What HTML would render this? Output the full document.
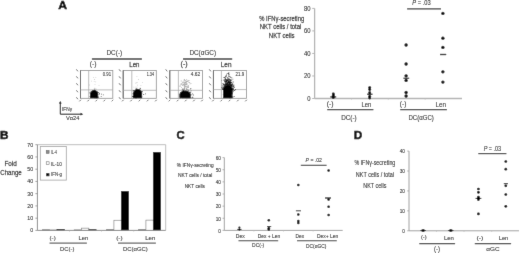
<!DOCTYPE html>
<html><head><meta charset="utf-8"><title>Figure</title>
<style>html,body{margin:0;padding:0;background:#fff;}body{width:520px;height:253px;overflow:hidden;}svg{display:block;will-change:transform;}text{font-kerning:none;stroke:#000;stroke-width:0.26px;stroke-opacity:0.5;}text.s{stroke-width:0.12px;}text.b{stroke-width:0.45px;stroke-opacity:1;}</style>
</head><body>
<svg width="520" height="253" viewBox="0 0 520 253" font-family='"Liberation Sans", sans-serif'>
<defs><filter id="gb" x="0" y="0" width="520" height="253" filterUnits="userSpaceOnUse"><feConvolveMatrix order="3" kernelMatrix="0.005 0.065 0.005 0.065 0.72 0.065 0.005 0.065 0.005" divisor="1" edgeMode="duplicate"/></filter></defs>
<rect width="520" height="253" fill="#fff"/>
<g filter="url(#gb)">
<rect width="520" height="253" fill="#fff"/>
<text class="b" x="58.20" y="9.00" font-size="11.4" font-weight="bold" fill="#000" textLength="8.83" lengthAdjust="spacingAndGlyphs">A</text>
<text class="b" x="0.01" y="138.80" font-size="11.6" font-weight="bold" fill="#000" textLength="8.53" lengthAdjust="spacingAndGlyphs">B</text>
<text class="b" x="176.44" y="138.80" font-size="11.6" font-weight="bold" fill="#000" textLength="8.17" lengthAdjust="spacingAndGlyphs">C</text>
<text class="b" x="353.81" y="138.80" font-size="11.6" font-weight="bold" fill="#000" textLength="8.48" lengthAdjust="spacingAndGlyphs">D</text>
<text class="s" x="106.47" y="54.70" font-size="6.8" fill="#1a1a1a" textLength="15.73" lengthAdjust="spacingAndGlyphs">DC(-)</text>
<line x1="91.90" y1="59.00" x2="141.90" y2="59.00" stroke="#3c3c3c" stroke-width="1.3"/>
<text class="s" x="189.38" y="54.50" font-size="6.8" fill="#1a1a1a" textLength="26.72" lengthAdjust="spacingAndGlyphs">DC(αGC)</text>
<line x1="183.00" y1="59.00" x2="232.20" y2="59.00" stroke="#3c3c3c" stroke-width="1.3"/>
<text class="s" x="89.77" y="65.50" font-size="6.7" fill="#1a1a1a" textLength="6.85" lengthAdjust="spacingAndGlyphs">(-)</text>
<text x="129.30" y="66.80" font-size="7.5" fill="#1a1a1a" textLength="10.20" lengthAdjust="spacingAndGlyphs">Len</text>
<text x="180.56" y="66.20" font-size="7.2" fill="#1a1a1a" textLength="7.08" lengthAdjust="spacingAndGlyphs">(-)</text>
<text x="220.77" y="67.00" font-size="7.5" fill="#1a1a1a" textLength="10.75" lengthAdjust="spacingAndGlyphs">Len</text>
<defs><filter id="bl" x="-50%" y="-50%" width="200%" height="200%"><feGaussianBlur stdDeviation="0.55"/></filter><filter id="bl2" x="-50%" y="-50%" width="200%" height="200%"><feGaussianBlur stdDeviation="0.7"/></filter></defs>
<rect x="80.50" y="70.40" width="32.30" height="27.90" fill="none" stroke="#8a8a8a" stroke-width="0.8"/>
<line x1="80.50" y1="70.40" x2="80.50" y2="98.30" stroke="#555" stroke-width="0.9"/>
<line x1="88.70" y1="70.40" x2="88.70" y2="98.30" stroke="#aaa" stroke-width="0.8"/>
<line x1="80.50" y1="89.90" x2="112.80" y2="89.90" stroke="#aaa" stroke-width="0.8"/>
<clipPath id="cp1"><rect x="88.70" y="70.40" width="24.10" height="27.90"/></clipPath>
<g clip-path="url(#cp1)"><path filter="url(#bl)" fill="#000" d="M90.0 98.8V94.6A4.1 4.7 0 0 1 98.2 94.6V98.8Z"/><path filter="url(#bl2)" fill="#000" fill-opacity="0.8" d="M91.1 95.4h.8v.8h-.8zM96.9 93.3h.8v.8h-.8zM90.8 94.3h.8v.8h-.8zM95.5 97.1h.8v.8h-.8zM91.1 91.4h.8v.8h-.8zM96.1 95.6h.8v.8h-.8zM98.3 96.9h.8v.8h-.8zM94.0 93.8h.8v.8h-.8zM101.0 93.8h.8v.8h-.8zM92.3 91.8h.8v.8h-.8zM94.5 94.8h.8v.8h-.8zM93.4 94.4h.8v.8h-.8zM95.0 96.2h.8v.8h-.8zM97.2 95.0h.8v.8h-.8zM89.6 96.2h.8v.8h-.8zM90.6 94.1h.8v.8h-.8zM90.5 94.5h.8v.8h-.8zM92.3 95.0h.8v.8h-.8zM102.9 94.4h.8v.8h-.8zM96.5 91.3h.8v.8h-.8zM93.6 96.1h.8v.8h-.8zM94.1 95.4h.8v.8h-.8zM94.6 92.1h.8v.8h-.8zM95.8 92.6h.8v.8h-.8zM99.2 93.3h.8v.8h-.8zM96.1 94.5h.8v.8h-.8zM96.8 93.1h.8v.8h-.8zM96.9 94.2h.8v.8h-.8zM97.6 96.0h.8v.8h-.8zM94.7 92.6h.8v.8h-.8zM96.3 95.6h.8v.8h-.8zM98.6 93.6h.8v.8h-.8zM95.7 95.7h.8v.8h-.8zM95.0 95.0h.8v.8h-.8zM94.8 93.1h.8v.8h-.8zM91.7 93.5h.8v.8h-.8zM95.8 98.1h.8v.8h-.8zM96.8 97.0h.8v.8h-.8zM96.3 96.2h.8v.8h-.8zM94.8 96.4h.8v.8h-.8zM98.9 93.7h.8v.8h-.8zM92.5 99.2h.8v.8h-.8zM94.9 96.8h.8v.8h-.8zM96.6 91.8h.8v.8h-.8zM100.6 98.8h.8v.8h-.8zM94.8 96.3h.8v.8h-.8zM94.6 92.4h.8v.8h-.8zM94.0 95.4h.8v.8h-.8zM97.2 96.2h.8v.8h-.8zM94.5 97.8h.8v.8h-.8zM92.3 96.4h.8v.8h-.8zM97.2 93.8h.8v.8h-.8zM89.6 92.3h.8v.8h-.8zM94.9 95.8h.8v.8h-.8zM98.3 92.1h.8v.8h-.8zM94.3 96.1h.8v.8h-.8zM93.9 88.8h.8v.8h-.8zM96.4 100.0h.8v.8h-.8zM96.9 92.3h.8v.8h-.8zM93.2 95.0h.8v.8h-.8zM100.8 96.0h.8v.8h-.8zM94.6 98.2h.8v.8h-.8zM94.1 99.0h.8v.8h-.8zM92.5 93.4h.8v.8h-.8zM96.2 97.9h.8v.8h-.8zM96.0 95.2h.8v.8h-.8zM89.6 92.8h.8v.8h-.8zM92.7 93.2h.8v.8h-.8zM95.8 93.7h.8v.8h-.8zM96.3 94.7h.8v.8h-.8z"/><path filter="url(#bl2)" fill="#000" fill-opacity="0.22" d="M94.2 79.1h.8v.8h-.8zM95.3 81.4h.8v.8h-.8zM93.8 81.3h.8v.8h-.8zM94.4 87.7h.8v.8h-.8zM98.6 85.3h.8v.8h-.8zM94.6 84.0h.8v.8h-.8zM95.4 77.2h.8v.8h-.8zM95.5 87.9h.8v.8h-.8zM93.1 77.3h.8v.8h-.8zM88.9 84.6h.8v.8h-.8zM91.0 80.8h.8v.8h-.8zM95.5 89.0h.8v.8h-.8z"/></g>
<path d="M76.4 97.3 l1.5 1.9" stroke="#555" stroke-width="0.95"/>
<path d="M79.4 101.3 l1.5 -1.5" stroke="#555" stroke-width="0.95"/>
<path d="M76.4 90.3 l1.5 1.9" stroke="#555" stroke-width="0.95"/>
<path d="M87.5 101.3 l1.5 -1.5" stroke="#555" stroke-width="0.95"/>
<path d="M76.4 83.3 l1.5 1.9" stroke="#555" stroke-width="0.95"/>
<path d="M95.6 101.3 l1.5 -1.5" stroke="#555" stroke-width="0.95"/>
<path d="M76.4 76.4 l1.5 1.9" stroke="#555" stroke-width="0.95"/>
<path d="M103.6 101.3 l1.5 -1.5" stroke="#555" stroke-width="0.95"/>
<path d="M76.4 69.4 l1.5 1.9" stroke="#555" stroke-width="0.95"/>
<path d="M111.7 101.3 l1.5 -1.5" stroke="#555" stroke-width="0.95"/>
<text class="s" x="102.83" y="75.80" font-size="5.5" fill="#222" textLength="8.27" lengthAdjust="spacingAndGlyphs">0.91</text>
<rect x="123.20" y="70.40" width="33.10" height="27.90" fill="none" stroke="#8a8a8a" stroke-width="0.8"/>
<line x1="123.20" y1="70.40" x2="123.20" y2="98.30" stroke="#555" stroke-width="0.9"/>
<line x1="131.80" y1="70.40" x2="131.80" y2="98.30" stroke="#aaa" stroke-width="0.8"/>
<line x1="123.20" y1="90.30" x2="156.30" y2="90.30" stroke="#aaa" stroke-width="0.8"/>
<clipPath id="cp2"><rect x="131.80" y="70.40" width="24.50" height="27.90"/></clipPath>
<g clip-path="url(#cp2)"><path filter="url(#bl)" fill="#000" d="M132.9 98.8V94.0A4.6 4.9 0 0 1 142.1 94.0V98.8Z"/><path filter="url(#bl2)" fill="#000" fill-opacity="0.8" d="M140.6 95.8h.8v.8h-.8zM137.0 88.7h.8v.8h-.8zM137.1 90.3h.8v.8h-.8zM139.2 88.7h.8v.8h-.8zM135.0 97.5h.8v.8h-.8zM142.1 91.2h.8v.8h-.8zM133.2 96.6h.8v.8h-.8zM139.9 91.7h.8v.8h-.8zM135.6 92.5h.8v.8h-.8zM134.2 92.5h.8v.8h-.8zM141.0 96.1h.8v.8h-.8zM143.3 94.1h.8v.8h-.8zM137.1 91.7h.8v.8h-.8zM137.2 90.9h.8v.8h-.8zM132.5 96.1h.8v.8h-.8zM141.5 96.5h.8v.8h-.8zM141.2 95.0h.8v.8h-.8zM135.5 94.5h.8v.8h-.8zM136.5 91.4h.8v.8h-.8zM132.8 90.4h.8v.8h-.8zM137.5 94.7h.8v.8h-.8zM136.2 98.0h.8v.8h-.8zM138.0 95.8h.8v.8h-.8zM140.9 92.2h.8v.8h-.8zM132.0 96.3h.8v.8h-.8zM135.6 97.7h.8v.8h-.8zM138.4 96.9h.8v.8h-.8zM139.6 88.9h.8v.8h-.8zM139.5 92.5h.8v.8h-.8zM135.4 93.2h.8v.8h-.8zM139.7 96.6h.8v.8h-.8zM140.3 90.0h.8v.8h-.8zM135.8 88.1h.8v.8h-.8zM137.2 95.9h.8v.8h-.8zM135.4 94.9h.8v.8h-.8zM138.1 96.9h.8v.8h-.8zM135.2 92.1h.8v.8h-.8zM135.4 98.9h.8v.8h-.8zM140.6 94.0h.8v.8h-.8zM138.1 94.6h.8v.8h-.8zM138.1 93.8h.8v.8h-.8zM136.6 91.0h.8v.8h-.8zM135.7 98.6h.8v.8h-.8zM139.0 94.5h.8v.8h-.8zM136.9 94.5h.8v.8h-.8zM138.5 92.6h.8v.8h-.8zM138.0 94.9h.8v.8h-.8zM135.4 92.2h.8v.8h-.8zM134.7 91.5h.8v.8h-.8zM140.0 88.2h.8v.8h-.8zM136.8 92.7h.8v.8h-.8zM135.8 94.6h.8v.8h-.8zM140.7 94.5h.8v.8h-.8zM137.1 92.7h.8v.8h-.8zM137.1 96.7h.8v.8h-.8zM136.4 91.3h.8v.8h-.8zM134.0 91.4h.8v.8h-.8zM133.6 97.2h.8v.8h-.8zM138.5 93.7h.8v.8h-.8zM141.6 92.6h.8v.8h-.8zM139.6 96.4h.8v.8h-.8zM133.2 90.3h.8v.8h-.8zM134.9 96.7h.8v.8h-.8zM141.1 91.1h.8v.8h-.8zM140.4 93.3h.8v.8h-.8zM136.4 92.9h.8v.8h-.8zM136.6 89.6h.8v.8h-.8zM134.7 91.1h.8v.8h-.8zM138.9 99.7h.8v.8h-.8zM145.1 93.4h.8v.8h-.8zM132.7 93.2h.8v.8h-.8zM134.9 99.5h.8v.8h-.8zM139.1 92.4h.8v.8h-.8zM140.1 95.7h.8v.8h-.8zM132.9 92.9h.8v.8h-.8zM136.8 94.3h.8v.8h-.8zM137.9 93.4h.8v.8h-.8zM138.0 92.8h.8v.8h-.8zM135.0 98.2h.8v.8h-.8zM138.5 95.4h.8v.8h-.8z"/><path filter="url(#bl2)" fill="#000" fill-opacity="0.22" d="M133.5 86.8h.8v.8h-.8zM137.1 84.7h.8v.8h-.8zM140.2 88.3h.8v.8h-.8zM136.5 76.2h.8v.8h-.8zM138.0 79.1h.8v.8h-.8zM140.5 85.2h.8v.8h-.8zM135.5 86.8h.8v.8h-.8zM135.2 82.8h.8v.8h-.8zM136.6 86.8h.8v.8h-.8zM139.8 87.6h.8v.8h-.8zM138.8 88.6h.8v.8h-.8zM142.2 82.3h.8v.8h-.8zM136.0 82.5h.8v.8h-.8zM136.8 82.0h.8v.8h-.8z"/></g>
<path d="M119.1 97.3 l1.5 1.9" stroke="#555" stroke-width="0.95"/>
<path d="M122.1 101.3 l1.5 -1.5" stroke="#555" stroke-width="0.95"/>
<path d="M119.1 90.3 l1.5 1.9" stroke="#555" stroke-width="0.95"/>
<path d="M130.4 101.3 l1.5 -1.5" stroke="#555" stroke-width="0.95"/>
<path d="M119.1 83.3 l1.5 1.9" stroke="#555" stroke-width="0.95"/>
<path d="M138.7 101.3 l1.5 -1.5" stroke="#555" stroke-width="0.95"/>
<path d="M119.1 76.4 l1.5 1.9" stroke="#555" stroke-width="0.95"/>
<path d="M146.9 101.3 l1.5 -1.5" stroke="#555" stroke-width="0.95"/>
<path d="M119.1 69.4 l1.5 1.9" stroke="#555" stroke-width="0.95"/>
<path d="M155.2 101.3 l1.5 -1.5" stroke="#555" stroke-width="0.95"/>
<text class="s" x="146.71" y="75.80" font-size="5.5" fill="#222" textLength="7.30" lengthAdjust="spacingAndGlyphs">1.34</text>
<rect x="169.80" y="70.40" width="32.60" height="27.90" fill="none" stroke="#8a8a8a" stroke-width="0.8"/>
<line x1="169.80" y1="70.40" x2="169.80" y2="98.30" stroke="#555" stroke-width="0.9"/>
<line x1="178.40" y1="70.40" x2="178.40" y2="98.30" stroke="#aaa" stroke-width="0.8"/>
<line x1="169.80" y1="90.30" x2="202.40" y2="90.30" stroke="#aaa" stroke-width="0.8"/>
<clipPath id="cp3"><rect x="178.40" y="70.40" width="24.00" height="27.90"/></clipPath>
<g clip-path="url(#cp3)"><path filter="url(#bl)" fill="#000" d="M179.5 98.8V94.2Q179.7 90.9 185.0 90.7Q190.5 90.9 190.7 94.2V98.8Z"/><path filter="url(#bl2)" fill="#000" fill-opacity="0.8" d="M184.4 94.6h.8v.8h-.8zM188.9 94.4h.8v.8h-.8zM180.2 97.7h.8v.8h-.8zM181.5 93.8h.8v.8h-.8zM184.6 94.1h.8v.8h-.8zM181.7 94.4h.8v.8h-.8zM192.2 93.4h.8v.8h-.8zM184.6 97.9h.8v.8h-.8zM187.5 97.0h.8v.8h-.8zM187.8 89.9h.8v.8h-.8zM182.1 95.3h.8v.8h-.8zM186.6 98.4h.8v.8h-.8zM186.5 94.4h.8v.8h-.8zM185.1 94.5h.8v.8h-.8zM185.8 96.8h.8v.8h-.8zM183.9 92.9h.8v.8h-.8zM182.2 97.9h.8v.8h-.8zM189.2 97.6h.8v.8h-.8zM187.8 97.2h.8v.8h-.8zM185.0 96.7h.8v.8h-.8zM181.5 94.5h.8v.8h-.8zM182.6 96.9h.8v.8h-.8zM183.1 94.7h.8v.8h-.8zM186.3 98.5h.8v.8h-.8zM182.4 92.6h.8v.8h-.8zM187.7 92.1h.8v.8h-.8zM186.5 93.5h.8v.8h-.8zM184.7 90.3h.8v.8h-.8zM187.4 93.7h.8v.8h-.8zM182.0 100.4h.8v.8h-.8zM187.3 104.1h.8v.8h-.8zM186.3 94.1h.8v.8h-.8zM185.4 99.2h.8v.8h-.8zM184.9 96.2h.8v.8h-.8zM186.7 92.6h.8v.8h-.8zM185.4 93.7h.8v.8h-.8zM180.9 97.3h.8v.8h-.8zM187.2 95.2h.8v.8h-.8zM182.0 89.8h.8v.8h-.8zM186.6 94.7h.8v.8h-.8zM179.4 94.8h.8v.8h-.8zM180.0 94.9h.8v.8h-.8zM185.5 95.9h.8v.8h-.8zM185.7 95.4h.8v.8h-.8zM181.2 94.0h.8v.8h-.8zM183.3 94.4h.8v.8h-.8zM185.9 96.6h.8v.8h-.8zM190.4 88.3h.8v.8h-.8zM186.3 94.5h.8v.8h-.8zM192.5 97.4h.8v.8h-.8zM179.5 96.0h.8v.8h-.8zM183.3 97.6h.8v.8h-.8zM181.5 94.7h.8v.8h-.8zM184.6 94.7h.8v.8h-.8zM183.1 90.2h.8v.8h-.8zM186.5 97.6h.8v.8h-.8zM184.8 92.4h.8v.8h-.8zM185.7 96.5h.8v.8h-.8zM184.4 95.0h.8v.8h-.8zM189.6 92.1h.8v.8h-.8zM183.2 90.0h.8v.8h-.8zM182.7 93.1h.8v.8h-.8zM181.8 93.2h.8v.8h-.8zM190.9 94.5h.8v.8h-.8zM184.6 100.7h.8v.8h-.8zM184.8 90.5h.8v.8h-.8zM186.3 92.6h.8v.8h-.8zM190.4 91.8h.8v.8h-.8zM183.1 90.8h.8v.8h-.8zM185.3 92.4h.8v.8h-.8zM184.8 94.0h.8v.8h-.8zM183.0 97.5h.8v.8h-.8zM188.1 95.2h.8v.8h-.8zM182.0 92.2h.8v.8h-.8zM185.9 101.2h.8v.8h-.8zM183.5 93.0h.8v.8h-.8zM182.7 92.2h.8v.8h-.8zM181.8 94.5h.8v.8h-.8zM189.7 95.0h.8v.8h-.8zM183.3 90.8h.8v.8h-.8zM185.7 94.9h.8v.8h-.8zM181.0 92.2h.8v.8h-.8zM184.9 97.6h.8v.8h-.8zM187.1 95.5h.8v.8h-.8zM183.9 95.8h.8v.8h-.8zM185.0 100.6h.8v.8h-.8zM181.3 94.0h.8v.8h-.8zM189.2 94.3h.8v.8h-.8zM189.7 94.9h.8v.8h-.8zM185.5 94.0h.8v.8h-.8zM180.4 92.5h.8v.8h-.8zM192.3 96.7h.8v.8h-.8zM187.0 97.5h.8v.8h-.8zM186.9 97.7h.8v.8h-.8zM184.1 94.4h.8v.8h-.8zM188.2 94.1h.8v.8h-.8zM180.6 94.4h.8v.8h-.8zM183.2 96.6h.8v.8h-.8zM182.6 92.2h.8v.8h-.8zM183.9 99.0h.8v.8h-.8zM184.8 95.4h.8v.8h-.8zM185.0 95.8h.8v.8h-.8zM188.1 98.6h.8v.8h-.8zM179.6 98.5h.8v.8h-.8zM185.0 94.2h.8v.8h-.8zM192.9 94.6h.8v.8h-.8zM191.4 97.5h.8v.8h-.8zM181.6 96.3h.8v.8h-.8zM187.4 94.7h.8v.8h-.8zM177.3 94.1h.8v.8h-.8z"/><path filter="url(#bl2)" fill="#000" fill-opacity="0.35" d="M184.6 91.7h.8v.8h-.8zM182.6 89.6h.8v.8h-.8zM184.1 87.1h.8v.8h-.8zM184.3 84.9h.8v.8h-.8zM185.2 85.9h.8v.8h-.8zM185.7 80.6h.8v.8h-.8zM181.9 84.9h.8v.8h-.8zM186.1 82.4h.8v.8h-.8zM183.0 89.1h.8v.8h-.8zM183.9 85.9h.8v.8h-.8zM190.4 88.5h.8v.8h-.8zM184.9 82.1h.8v.8h-.8zM188.5 89.2h.8v.8h-.8zM188.0 87.1h.8v.8h-.8zM183.9 87.9h.8v.8h-.8zM186.4 86.3h.8v.8h-.8zM182.4 88.8h.8v.8h-.8zM183.3 81.5h.8v.8h-.8zM185.0 90.9h.8v.8h-.8zM191.1 90.4h.8v.8h-.8zM185.8 82.5h.8v.8h-.8zM185.2 84.5h.8v.8h-.8zM184.3 86.0h.8v.8h-.8zM184.3 79.9h.8v.8h-.8zM187.8 86.2h.8v.8h-.8zM186.7 87.2h.8v.8h-.8zM183.2 81.7h.8v.8h-.8zM186.8 83.5h.8v.8h-.8zM184.9 80.0h.8v.8h-.8zM180.8 80.6h.8v.8h-.8zM186.1 89.0h.8v.8h-.8zM182.1 81.8h.8v.8h-.8zM183.5 89.5h.8v.8h-.8zM185.8 83.8h.8v.8h-.8zM181.2 83.2h.8v.8h-.8zM179.6 86.1h.8v.8h-.8zM184.9 84.6h.8v.8h-.8zM180.0 83.8h.8v.8h-.8zM188.7 80.0h.8v.8h-.8zM187.6 80.1h.8v.8h-.8zM182.7 87.9h.8v.8h-.8zM184.0 82.9h.8v.8h-.8zM185.1 81.8h.8v.8h-.8zM184.1 87.6h.8v.8h-.8zM186.6 88.4h.8v.8h-.8zM185.9 88.0h.8v.8h-.8zM184.7 83.7h.8v.8h-.8zM186.2 88.4h.8v.8h-.8zM184.3 88.2h.8v.8h-.8zM185.8 86.4h.8v.8h-.8zM189.5 90.9h.8v.8h-.8zM182.4 84.7h.8v.8h-.8zM185.6 83.1h.8v.8h-.8zM183.2 84.2h.8v.8h-.8zM189.3 82.2h.8v.8h-.8zM183.1 83.7h.8v.8h-.8zM183.6 84.1h.8v.8h-.8zM186.6 84.0h.8v.8h-.8zM186.0 89.4h.8v.8h-.8zM187.7 86.0h.8v.8h-.8zM186.5 81.3h.8v.8h-.8zM182.6 88.9h.8v.8h-.8zM186.3 79.3h.8v.8h-.8zM183.8 85.7h.8v.8h-.8zM182.3 91.6h.8v.8h-.8zM184.2 87.5h.8v.8h-.8zM185.3 86.1h.8v.8h-.8zM184.2 89.2h.8v.8h-.8zM185.8 88.6h.8v.8h-.8zM185.5 90.7h.8v.8h-.8zM187.7 80.9h.8v.8h-.8zM186.6 88.7h.8v.8h-.8zM184.0 81.9h.8v.8h-.8zM183.7 88.9h.8v.8h-.8zM181.3 84.1h.8v.8h-.8zM184.5 83.4h.8v.8h-.8zM188.2 85.4h.8v.8h-.8zM184.3 86.0h.8v.8h-.8zM184.4 90.9h.8v.8h-.8zM181.6 84.3h.8v.8h-.8zM186.5 90.1h.8v.8h-.8zM182.1 89.5h.8v.8h-.8zM187.3 91.5h.8v.8h-.8zM181.0 87.3h.8v.8h-.8zM181.6 89.4h.8v.8h-.8zM184.5 84.5h.8v.8h-.8zM183.9 88.6h.8v.8h-.8zM185.6 91.9h.8v.8h-.8zM184.1 81.7h.8v.8h-.8zM185.9 84.5h.8v.8h-.8zM183.5 79.8h.8v.8h-.8zM190.6 83.0h.8v.8h-.8zM187.4 89.1h.8v.8h-.8zM187.1 81.3h.8v.8h-.8zM187.3 86.6h.8v.8h-.8zM185.9 90.8h.8v.8h-.8zM186.0 81.4h.8v.8h-.8zM185.2 81.8h.8v.8h-.8zM185.3 86.7h.8v.8h-.8zM188.5 81.9h.8v.8h-.8zM185.7 81.2h.8v.8h-.8zM186.6 88.8h.8v.8h-.8zM184.0 89.6h.8v.8h-.8zM187.6 85.2h.8v.8h-.8zM184.7 90.9h.8v.8h-.8zM189.6 83.4h.8v.8h-.8zM179.7 85.3h.8v.8h-.8zM183.4 81.9h.8v.8h-.8zM190.1 89.4h.8v.8h-.8zM186.6 84.0h.8v.8h-.8zM182.4 82.6h.8v.8h-.8zM184.5 91.9h.8v.8h-.8zM184.1 79.1h.8v.8h-.8zM183.6 85.1h.8v.8h-.8zM182.3 88.3h.8v.8h-.8zM187.8 86.9h.8v.8h-.8zM185.7 83.2h.8v.8h-.8zM186.1 82.4h.8v.8h-.8zM186.8 87.3h.8v.8h-.8zM183.1 91.9h.8v.8h-.8z"/></g>
<path d="M165.7 97.3 l1.5 1.9" stroke="#555" stroke-width="0.95"/>
<path d="M168.7 101.3 l1.5 -1.5" stroke="#555" stroke-width="0.95"/>
<path d="M165.7 90.3 l1.5 1.9" stroke="#555" stroke-width="0.95"/>
<path d="M176.9 101.3 l1.5 -1.5" stroke="#555" stroke-width="0.95"/>
<path d="M165.7 83.3 l1.5 1.9" stroke="#555" stroke-width="0.95"/>
<path d="M185.0 101.3 l1.5 -1.5" stroke="#555" stroke-width="0.95"/>
<path d="M165.7 76.4 l1.5 1.9" stroke="#555" stroke-width="0.95"/>
<path d="M193.2 101.3 l1.5 -1.5" stroke="#555" stroke-width="0.95"/>
<path d="M165.7 69.4 l1.5 1.9" stroke="#555" stroke-width="0.95"/>
<path d="M201.3 101.3 l1.5 -1.5" stroke="#555" stroke-width="0.95"/>
<text class="s" x="190.69" y="75.80" font-size="5.5" fill="#222" textLength="9.46" lengthAdjust="spacingAndGlyphs">4.62</text>
<rect x="213.40" y="70.40" width="33.00" height="27.90" fill="none" stroke="#8a8a8a" stroke-width="0.8"/>
<line x1="213.40" y1="70.40" x2="213.40" y2="98.30" stroke="#555" stroke-width="0.9"/>
<line x1="221.40" y1="70.40" x2="221.40" y2="98.30" stroke="#aaa" stroke-width="0.8"/>
<line x1="213.40" y1="89.60" x2="246.40" y2="89.60" stroke="#aaa" stroke-width="0.8"/>
<clipPath id="cp4"><rect x="221.40" y="70.40" width="25.00" height="27.90"/></clipPath>
<g clip-path="url(#cp4)"><path filter="url(#bl)" fill="#000" d="M223.1 98.8V90.5Q223.3 86.2 227.7 85.8Q232.2 86.2 232.5 90.5V98.8Z"/><path filter="url(#bl2)" fill="#000" fill-opacity="0.9" d="M231.2 88.8h.8v.8h-.8zM231.1 84.3h.8v.8h-.8zM227.6 79.8h.8v.8h-.8zM223.9 84.0h.8v.8h-.8zM228.6 85.9h.8v.8h-.8zM226.3 89.0h.8v.8h-.8zM227.9 83.7h.8v.8h-.8zM226.7 82.9h.8v.8h-.8zM225.8 86.7h.8v.8h-.8zM224.7 88.2h.8v.8h-.8zM227.0 87.5h.8v.8h-.8zM225.9 87.9h.8v.8h-.8zM226.8 83.4h.8v.8h-.8zM231.5 84.1h.8v.8h-.8zM229.9 87.8h.8v.8h-.8zM228.6 85.6h.8v.8h-.8zM228.3 81.4h.8v.8h-.8zM230.5 84.5h.8v.8h-.8zM229.2 85.4h.8v.8h-.8zM228.6 76.3h.8v.8h-.8zM224.2 85.9h.8v.8h-.8zM227.8 84.5h.8v.8h-.8zM225.5 88.5h.8v.8h-.8zM226.5 84.2h.8v.8h-.8zM227.9 73.5h.8v.8h-.8zM225.7 88.4h.8v.8h-.8zM226.1 86.3h.8v.8h-.8zM229.8 84.9h.8v.8h-.8zM230.1 88.1h.8v.8h-.8zM229.8 83.5h.8v.8h-.8zM229.6 89.4h.8v.8h-.8zM225.0 89.0h.8v.8h-.8zM226.6 83.2h.8v.8h-.8zM225.0 88.7h.8v.8h-.8zM226.5 88.4h.8v.8h-.8zM228.6 88.0h.8v.8h-.8zM223.9 85.9h.8v.8h-.8zM230.1 87.2h.8v.8h-.8zM224.6 85.9h.8v.8h-.8zM228.6 86.4h.8v.8h-.8zM228.8 88.0h.8v.8h-.8zM228.2 87.8h.8v.8h-.8zM226.3 84.7h.8v.8h-.8zM227.4 82.0h.8v.8h-.8zM222.3 88.5h.8v.8h-.8zM229.2 86.0h.8v.8h-.8zM227.9 88.7h.8v.8h-.8zM229.7 83.0h.8v.8h-.8zM227.2 80.4h.8v.8h-.8zM224.6 85.7h.8v.8h-.8zM227.9 84.9h.8v.8h-.8zM230.7 85.4h.8v.8h-.8zM229.2 85.5h.8v.8h-.8zM227.4 80.3h.8v.8h-.8zM224.3 86.2h.8v.8h-.8zM231.2 84.7h.8v.8h-.8zM225.8 84.1h.8v.8h-.8zM230.1 85.8h.8v.8h-.8zM230.7 84.3h.8v.8h-.8zM227.4 83.3h.8v.8h-.8zM222.4 87.4h.8v.8h-.8zM233.5 85.4h.8v.8h-.8zM226.3 87.1h.8v.8h-.8zM228.6 86.1h.8v.8h-.8zM226.0 82.4h.8v.8h-.8zM232.5 83.8h.8v.8h-.8zM229.8 85.8h.8v.8h-.8zM231.4 79.5h.8v.8h-.8zM231.3 82.1h.8v.8h-.8zM226.8 83.1h.8v.8h-.8zM226.8 85.7h.8v.8h-.8zM224.9 75.9h.8v.8h-.8zM224.3 86.6h.8v.8h-.8zM230.6 82.5h.8v.8h-.8zM233.3 86.8h.8v.8h-.8zM231.5 89.1h.8v.8h-.8zM226.0 87.9h.8v.8h-.8zM227.3 87.5h.8v.8h-.8zM227.9 86.3h.8v.8h-.8zM227.3 77.2h.8v.8h-.8zM225.6 87.1h.8v.8h-.8zM223.9 85.5h.8v.8h-.8zM229.9 84.4h.8v.8h-.8zM227.1 89.2h.8v.8h-.8zM230.6 87.7h.8v.8h-.8zM229.7 86.3h.8v.8h-.8zM226.9 86.6h.8v.8h-.8zM227.3 85.5h.8v.8h-.8zM226.6 85.2h.8v.8h-.8zM227.0 88.6h.8v.8h-.8zM226.2 88.1h.8v.8h-.8zM226.8 82.7h.8v.8h-.8zM228.1 84.2h.8v.8h-.8zM225.0 83.8h.8v.8h-.8zM222.7 89.1h.8v.8h-.8zM228.0 72.8h.8v.8h-.8zM223.5 84.1h.8v.8h-.8zM229.1 84.8h.8v.8h-.8zM225.9 79.2h.8v.8h-.8zM227.1 83.2h.8v.8h-.8zM229.4 79.2h.8v.8h-.8zM228.5 88.8h.8v.8h-.8zM221.6 87.8h.8v.8h-.8zM223.7 88.7h.8v.8h-.8zM225.0 89.4h.8v.8h-.8zM227.0 87.9h.8v.8h-.8zM229.6 85.5h.8v.8h-.8zM227.6 84.3h.8v.8h-.8zM228.7 81.9h.8v.8h-.8zM227.3 85.7h.8v.8h-.8zM230.3 87.7h.8v.8h-.8zM228.7 89.3h.8v.8h-.8zM225.0 78.0h.8v.8h-.8zM223.3 84.2h.8v.8h-.8zM229.5 81.2h.8v.8h-.8zM232.2 88.0h.8v.8h-.8zM225.9 79.2h.8v.8h-.8zM229.9 82.0h.8v.8h-.8zM229.8 84.9h.8v.8h-.8zM227.6 89.3h.8v.8h-.8zM230.1 89.3h.8v.8h-.8zM228.5 88.7h.8v.8h-.8zM225.1 81.9h.8v.8h-.8zM229.1 85.6h.8v.8h-.8zM227.2 88.1h.8v.8h-.8zM228.4 78.6h.8v.8h-.8zM230.7 87.3h.8v.8h-.8zM225.7 76.4h.8v.8h-.8zM227.9 86.0h.8v.8h-.8zM233.4 86.2h.8v.8h-.8zM226.5 86.8h.8v.8h-.8zM225.4 86.9h.8v.8h-.8zM227.9 86.4h.8v.8h-.8zM223.6 77.1h.8v.8h-.8zM231.4 87.3h.8v.8h-.8zM232.6 85.7h.8v.8h-.8zM228.0 87.2h.8v.8h-.8zM225.1 88.8h.8v.8h-.8zM225.1 81.0h.8v.8h-.8zM226.1 88.9h.8v.8h-.8zM221.8 85.4h.8v.8h-.8zM228.0 87.5h.8v.8h-.8zM230.1 88.8h.8v.8h-.8zM225.7 88.7h.8v.8h-.8zM229.5 87.9h.8v.8h-.8zM223.8 84.8h.8v.8h-.8zM230.2 84.2h.8v.8h-.8zM225.4 84.3h.8v.8h-.8zM230.1 88.9h.8v.8h-.8zM226.1 82.6h.8v.8h-.8zM231.7 88.3h.8v.8h-.8zM230.3 77.0h.8v.8h-.8zM228.7 83.6h.8v.8h-.8zM227.4 87.9h.8v.8h-.8zM226.3 86.1h.8v.8h-.8zM233.0 89.4h.8v.8h-.8zM228.7 85.9h.8v.8h-.8zM225.4 89.4h.8v.8h-.8zM231.2 88.3h.8v.8h-.8zM232.6 85.2h.8v.8h-.8zM227.5 88.1h.8v.8h-.8zM228.5 81.1h.8v.8h-.8zM230.8 80.5h.8v.8h-.8zM227.6 86.2h.8v.8h-.8zM226.5 82.5h.8v.8h-.8zM230.4 84.7h.8v.8h-.8zM224.2 88.2h.8v.8h-.8zM227.5 79.5h.8v.8h-.8zM224.5 87.0h.8v.8h-.8zM227.1 86.4h.8v.8h-.8zM225.9 88.9h.8v.8h-.8zM226.4 86.5h.8v.8h-.8zM229.0 81.2h.8v.8h-.8zM222.8 87.4h.8v.8h-.8zM231.0 89.0h.8v.8h-.8zM231.3 88.3h.8v.8h-.8zM227.6 88.1h.8v.8h-.8zM225.5 82.7h.8v.8h-.8zM225.8 80.0h.8v.8h-.8zM229.1 88.2h.8v.8h-.8zM227.9 83.4h.8v.8h-.8zM228.7 84.4h.8v.8h-.8zM232.8 88.7h.8v.8h-.8zM229.5 79.3h.8v.8h-.8zM226.3 83.6h.8v.8h-.8zM225.5 88.5h.8v.8h-.8zM229.5 86.8h.8v.8h-.8zM228.2 85.1h.8v.8h-.8zM225.5 84.9h.8v.8h-.8zM231.5 88.9h.8v.8h-.8zM229.7 81.3h.8v.8h-.8zM229.5 87.6h.8v.8h-.8zM230.9 85.2h.8v.8h-.8zM223.7 85.0h.8v.8h-.8zM228.6 84.5h.8v.8h-.8zM229.1 87.1h.8v.8h-.8zM227.4 88.0h.8v.8h-.8zM227.8 80.7h.8v.8h-.8zM227.5 86.6h.8v.8h-.8zM228.6 81.2h.8v.8h-.8zM228.1 85.8h.8v.8h-.8zM226.6 87.3h.8v.8h-.8zM229.0 86.1h.8v.8h-.8zM228.1 87.7h.8v.8h-.8zM228.5 72.6h.8v.8h-.8zM222.8 88.8h.8v.8h-.8zM229.8 89.0h.8v.8h-.8zM227.0 85.8h.8v.8h-.8zM228.6 77.8h.8v.8h-.8zM229.4 86.4h.8v.8h-.8zM227.2 82.4h.8v.8h-.8zM228.2 84.4h.8v.8h-.8zM226.8 88.4h.8v.8h-.8zM230.9 85.1h.8v.8h-.8zM225.0 84.9h.8v.8h-.8zM225.7 85.1h.8v.8h-.8zM230.3 81.7h.8v.8h-.8zM230.4 82.8h.8v.8h-.8zM230.2 88.5h.8v.8h-.8zM230.8 86.8h.8v.8h-.8zM229.2 87.7h.8v.8h-.8zM230.7 88.2h.8v.8h-.8zM230.4 87.5h.8v.8h-.8zM227.5 81.7h.8v.8h-.8zM226.2 87.2h.8v.8h-.8zM228.3 88.0h.8v.8h-.8zM225.1 87.7h.8v.8h-.8zM228.2 89.3h.8v.8h-.8zM229.6 87.8h.8v.8h-.8zM230.5 80.3h.8v.8h-.8zM225.4 88.6h.8v.8h-.8zM228.8 87.6h.8v.8h-.8zM226.7 85.0h.8v.8h-.8zM222.9 88.7h.8v.8h-.8zM227.3 88.6h.8v.8h-.8zM230.1 87.3h.8v.8h-.8zM229.7 80.2h.8v.8h-.8zM231.6 85.4h.8v.8h-.8zM227.5 87.8h.8v.8h-.8zM228.8 86.5h.8v.8h-.8zM228.0 86.6h.8v.8h-.8zM227.2 88.4h.8v.8h-.8zM230.3 87.4h.8v.8h-.8zM227.2 86.8h.8v.8h-.8zM225.4 88.4h.8v.8h-.8zM223.4 88.3h.8v.8h-.8zM229.1 87.4h.8v.8h-.8zM232.0 87.9h.8v.8h-.8zM229.0 85.2h.8v.8h-.8zM226.1 87.0h.8v.8h-.8zM230.2 88.3h.8v.8h-.8zM228.4 89.2h.8v.8h-.8zM228.1 82.3h.8v.8h-.8zM226.0 80.8h.8v.8h-.8zM227.3 85.2h.8v.8h-.8zM222.8 83.9h.8v.8h-.8zM231.8 87.8h.8v.8h-.8zM222.5 83.0h.8v.8h-.8zM226.1 86.9h.8v.8h-.8zM226.7 88.0h.8v.8h-.8zM228.7 84.8h.8v.8h-.8zM228.5 84.7h.8v.8h-.8zM230.4 86.6h.8v.8h-.8zM229.3 88.9h.8v.8h-.8zM229.2 84.7h.8v.8h-.8zM231.0 85.7h.8v.8h-.8zM228.9 89.4h.8v.8h-.8zM230.0 86.5h.8v.8h-.8zM230.4 85.5h.8v.8h-.8zM224.2 87.5h.8v.8h-.8zM227.0 89.2h.8v.8h-.8zM229.2 85.7h.8v.8h-.8zM228.6 84.6h.8v.8h-.8zM228.6 83.8h.8v.8h-.8zM226.2 84.5h.8v.8h-.8zM229.5 87.7h.8v.8h-.8zM227.9 84.8h.8v.8h-.8zM225.6 84.3h.8v.8h-.8zM232.0 88.9h.8v.8h-.8zM230.5 87.2h.8v.8h-.8zM224.3 79.8h.8v.8h-.8zM230.1 85.1h.8v.8h-.8zM226.3 81.1h.8v.8h-.8zM225.1 84.5h.8v.8h-.8zM229.0 84.9h.8v.8h-.8zM232.9 87.9h.8v.8h-.8zM225.8 85.8h.8v.8h-.8zM227.2 88.3h.8v.8h-.8zM229.9 85.4h.8v.8h-.8zM230.1 87.7h.8v.8h-.8zM227.4 86.6h.8v.8h-.8zM229.5 88.2h.8v.8h-.8zM225.7 87.9h.8v.8h-.8zM227.6 83.0h.8v.8h-.8zM228.8 86.5h.8v.8h-.8zM227.7 82.0h.8v.8h-.8zM226.6 82.6h.8v.8h-.8zM226.1 80.4h.8v.8h-.8zM227.2 84.9h.8v.8h-.8zM231.7 83.3h.8v.8h-.8zM231.5 86.3h.8v.8h-.8zM223.7 86.8h.8v.8h-.8zM226.7 80.0h.8v.8h-.8zM230.7 85.6h.8v.8h-.8zM227.8 82.8h.8v.8h-.8zM229.2 86.6h.8v.8h-.8zM223.9 89.5h.8v.8h-.8zM229.8 89.2h.8v.8h-.8zM229.2 88.0h.8v.8h-.8zM227.5 86.8h.8v.8h-.8zM228.0 87.7h.8v.8h-.8zM229.8 83.0h.8v.8h-.8zM229.4 85.2h.8v.8h-.8zM224.3 88.7h.8v.8h-.8zM231.8 84.1h.8v.8h-.8zM226.9 88.3h.8v.8h-.8zM231.2 89.3h.8v.8h-.8zM224.9 88.0h.8v.8h-.8zM225.4 88.7h.8v.8h-.8zM225.1 88.5h.8v.8h-.8zM231.3 85.1h.8v.8h-.8zM223.7 84.1h.8v.8h-.8zM226.5 84.5h.8v.8h-.8zM223.8 87.6h.8v.8h-.8zM223.6 84.9h.8v.8h-.8zM229.4 85.9h.8v.8h-.8zM225.8 87.7h.8v.8h-.8zM228.1 89.2h.8v.8h-.8zM225.2 78.9h.8v.8h-.8zM227.3 86.8h.8v.8h-.8zM224.9 87.4h.8v.8h-.8zM225.6 86.0h.8v.8h-.8zM225.7 75.3h.8v.8h-.8zM228.7 81.7h.8v.8h-.8zM228.2 88.4h.8v.8h-.8zM232.0 87.6h.8v.8h-.8zM227.5 86.9h.8v.8h-.8zM228.2 88.9h.8v.8h-.8zM226.9 83.7h.8v.8h-.8zM229.3 86.4h.8v.8h-.8zM222.7 86.4h.8v.8h-.8zM230.4 88.4h.8v.8h-.8zM224.9 83.0h.8v.8h-.8zM227.3 84.4h.8v.8h-.8zM224.3 87.2h.8v.8h-.8zM226.0 88.6h.8v.8h-.8zM228.8 88.4h.8v.8h-.8zM226.8 85.9h.8v.8h-.8zM227.7 86.9h.8v.8h-.8zM228.1 89.0h.8v.8h-.8zM227.0 86.8h.8v.8h-.8zM226.1 86.6h.8v.8h-.8zM230.9 88.7h.8v.8h-.8zM229.2 86.8h.8v.8h-.8zM227.9 87.7h.8v.8h-.8zM226.2 86.0h.8v.8h-.8zM228.4 86.6h.8v.8h-.8zM229.3 87.7h.8v.8h-.8zM225.5 79.5h.8v.8h-.8zM228.6 89.0h.8v.8h-.8zM230.6 84.6h.8v.8h-.8zM225.5 87.2h.8v.8h-.8zM226.6 83.4h.8v.8h-.8zM231.4 77.4h.8v.8h-.8zM224.5 76.9h.8v.8h-.8zM227.3 86.1h.8v.8h-.8zM229.2 86.3h.8v.8h-.8zM228.5 89.0h.8v.8h-.8zM224.6 88.1h.8v.8h-.8zM226.6 82.8h.8v.8h-.8zM229.3 83.7h.8v.8h-.8zM228.0 89.3h.8v.8h-.8zM222.2 89.3h.8v.8h-.8zM228.8 87.9h.8v.8h-.8zM224.4 81.3h.8v.8h-.8zM229.6 84.0h.8v.8h-.8zM228.6 81.7h.8v.8h-.8zM230.5 89.3h.8v.8h-.8zM227.0 87.9h.8v.8h-.8zM228.1 85.7h.8v.8h-.8zM225.7 88.9h.8v.8h-.8zM225.5 87.8h.8v.8h-.8zM224.9 86.3h.8v.8h-.8zM225.5 81.6h.8v.8h-.8zM226.4 83.9h.8v.8h-.8zM229.5 86.2h.8v.8h-.8zM229.7 86.9h.8v.8h-.8zM227.5 86.9h.8v.8h-.8zM227.5 85.9h.8v.8h-.8zM227.0 83.0h.8v.8h-.8zM228.8 86.6h.8v.8h-.8zM225.8 87.7h.8v.8h-.8zM230.6 85.0h.8v.8h-.8zM225.5 89.1h.8v.8h-.8zM221.0 86.9h.8v.8h-.8zM229.2 86.5h.8v.8h-.8zM226.2 79.2h.8v.8h-.8zM232.7 81.6h.8v.8h-.8zM222.9 79.8h.8v.8h-.8zM228.1 83.8h.8v.8h-.8zM227.2 84.3h.8v.8h-.8zM227.0 86.4h.8v.8h-.8zM229.5 81.8h.8v.8h-.8zM228.7 88.0h.8v.8h-.8zM229.0 85.0h.8v.8h-.8zM225.7 89.3h.8v.8h-.8zM226.5 85.7h.8v.8h-.8zM223.4 86.7h.8v.8h-.8zM229.6 82.2h.8v.8h-.8zM224.5 83.8h.8v.8h-.8zM231.9 89.3h.8v.8h-.8zM226.6 83.0h.8v.8h-.8zM226.3 84.2h.8v.8h-.8zM226.2 84.8h.8v.8h-.8zM224.7 87.0h.8v.8h-.8zM226.9 85.5h.8v.8h-.8zM225.3 89.4h.8v.8h-.8zM224.7 85.4h.8v.8h-.8zM229.0 85.6h.8v.8h-.8zM226.9 79.7h.8v.8h-.8zM229.8 91.7h.8v.8h-.8zM224.8 91.0h.8v.8h-.8zM217.5 85.4h.8v.8h-.8zM231.6 100.5h.8v.8h-.8zM235.1 89.1h.8v.8h-.8zM227.8 95.1h.8v.8h-.8zM223.5 99.0h.8v.8h-.8zM225.3 93.4h.8v.8h-.8zM223.8 93.5h.8v.8h-.8zM227.7 96.3h.8v.8h-.8zM223.8 92.0h.8v.8h-.8zM233.9 87.2h.8v.8h-.8zM228.9 93.8h.8v.8h-.8zM226.0 90.9h.8v.8h-.8zM232.5 96.6h.8v.8h-.8zM229.6 93.1h.8v.8h-.8zM223.9 92.4h.8v.8h-.8zM233.8 96.2h.8v.8h-.8zM223.1 83.7h.8v.8h-.8zM225.4 92.7h.8v.8h-.8zM225.8 90.8h.8v.8h-.8zM228.9 95.6h.8v.8h-.8zM228.4 97.0h.8v.8h-.8zM222.9 93.9h.8v.8h-.8zM229.1 86.0h.8v.8h-.8zM232.0 85.6h.8v.8h-.8zM222.8 102.7h.8v.8h-.8zM232.1 93.5h.8v.8h-.8zM232.3 96.6h.8v.8h-.8zM223.9 93.9h.8v.8h-.8zM232.5 91.4h.8v.8h-.8zM228.0 90.1h.8v.8h-.8zM230.2 89.8h.8v.8h-.8zM225.7 87.1h.8v.8h-.8zM224.5 92.9h.8v.8h-.8zM229.3 90.4h.8v.8h-.8zM224.1 93.4h.8v.8h-.8zM228.9 97.1h.8v.8h-.8zM226.0 90.3h.8v.8h-.8zM229.5 98.1h.8v.8h-.8zM227.5 91.7h.8v.8h-.8zM224.5 90.5h.8v.8h-.8zM230.9 95.4h.8v.8h-.8zM231.5 85.4h.8v.8h-.8zM230.6 88.3h.8v.8h-.8zM229.7 82.5h.8v.8h-.8zM227.4 88.4h.8v.8h-.8zM232.1 92.5h.8v.8h-.8zM232.2 90.2h.8v.8h-.8zM234.4 90.2h.8v.8h-.8zM234.2 90.0h.8v.8h-.8zM224.3 95.6h.8v.8h-.8zM226.3 91.8h.8v.8h-.8zM223.1 90.6h.8v.8h-.8zM228.1 89.2h.8v.8h-.8zM229.0 82.7h.8v.8h-.8zM230.8 90.4h.8v.8h-.8zM232.7 90.6h.8v.8h-.8zM225.5 90.2h.8v.8h-.8z"/><path filter="url(#bl2)" fill="#000" fill-opacity="0.55" d="M228.2 82.4h.8v.8h-.8zM226.7 81.2h.8v.8h-.8zM228.5 81.0h.8v.8h-.8zM224.1 79.7h.8v.8h-.8zM226.2 75.6h.8v.8h-.8zM230.1 81.2h.8v.8h-.8zM228.6 79.2h.8v.8h-.8zM229.9 83.3h.8v.8h-.8zM226.0 74.2h.8v.8h-.8zM224.7 77.6h.8v.8h-.8zM228.0 80.4h.8v.8h-.8zM228.0 80.9h.8v.8h-.8zM228.0 82.1h.8v.8h-.8zM226.6 80.0h.8v.8h-.8zM227.5 81.9h.8v.8h-.8zM225.0 79.7h.8v.8h-.8zM221.0 79.9h.8v.8h-.8zM228.5 78.9h.8v.8h-.8zM229.3 82.4h.8v.8h-.8zM233.5 84.5h.8v.8h-.8zM229.5 82.3h.8v.8h-.8zM229.2 85.9h.8v.8h-.8zM226.8 81.7h.8v.8h-.8zM230.1 78.9h.8v.8h-.8zM225.3 85.8h.8v.8h-.8zM231.3 84.8h.8v.8h-.8zM224.2 81.1h.8v.8h-.8zM229.1 74.2h.8v.8h-.8zM228.0 74.0h.8v.8h-.8zM226.1 80.5h.8v.8h-.8zM227.9 78.8h.8v.8h-.8zM227.0 77.9h.8v.8h-.8zM229.9 83.7h.8v.8h-.8zM229.9 80.5h.8v.8h-.8zM229.4 84.2h.8v.8h-.8zM228.2 81.0h.8v.8h-.8zM227.5 85.2h.8v.8h-.8zM226.1 84.3h.8v.8h-.8zM227.9 84.7h.8v.8h-.8zM229.7 79.8h.8v.8h-.8zM226.8 84.3h.8v.8h-.8zM226.8 84.0h.8v.8h-.8zM226.7 78.8h.8v.8h-.8zM227.1 79.1h.8v.8h-.8zM229.1 75.9h.8v.8h-.8zM223.7 85.2h.8v.8h-.8zM227.8 79.7h.8v.8h-.8zM230.6 85.1h.8v.8h-.8zM224.5 81.9h.8v.8h-.8zM229.6 83.1h.8v.8h-.8zM227.8 81.1h.8v.8h-.8zM232.5 78.8h.8v.8h-.8zM224.6 80.0h.8v.8h-.8zM228.2 81.9h.8v.8h-.8zM228.3 75.7h.8v.8h-.8zM230.5 82.7h.8v.8h-.8zM229.6 78.9h.8v.8h-.8zM224.2 78.7h.8v.8h-.8zM226.7 73.0h.8v.8h-.8zM227.6 82.0h.8v.8h-.8zM228.6 85.7h.8v.8h-.8zM226.1 81.7h.8v.8h-.8zM229.2 80.4h.8v.8h-.8zM227.9 80.0h.8v.8h-.8zM228.5 75.1h.8v.8h-.8zM228.8 79.2h.8v.8h-.8zM228.5 80.2h.8v.8h-.8zM227.0 85.5h.8v.8h-.8zM228.5 82.4h.8v.8h-.8zM228.9 81.7h.8v.8h-.8zM227.7 86.0h.8v.8h-.8zM225.3 79.9h.8v.8h-.8zM227.7 85.3h.8v.8h-.8zM227.5 73.3h.8v.8h-.8zM224.8 80.6h.8v.8h-.8zM229.6 82.5h.8v.8h-.8zM228.8 79.8h.8v.8h-.8zM225.9 83.2h.8v.8h-.8zM229.8 76.0h.8v.8h-.8z"/></g>
<path d="M209.3 97.3 l1.5 1.9" stroke="#555" stroke-width="0.95"/>
<path d="M212.3 101.3 l1.5 -1.5" stroke="#555" stroke-width="0.95"/>
<path d="M209.3 90.3 l1.5 1.9" stroke="#555" stroke-width="0.95"/>
<path d="M220.6 101.3 l1.5 -1.5" stroke="#555" stroke-width="0.95"/>
<path d="M209.3 83.3 l1.5 1.9" stroke="#555" stroke-width="0.95"/>
<path d="M228.8 101.3 l1.5 -1.5" stroke="#555" stroke-width="0.95"/>
<path d="M209.3 76.4 l1.5 1.9" stroke="#555" stroke-width="0.95"/>
<path d="M237.1 101.3 l1.5 -1.5" stroke="#555" stroke-width="0.95"/>
<path d="M209.3 69.4 l1.5 1.9" stroke="#555" stroke-width="0.95"/>
<path d="M245.3 101.3 l1.5 -1.5" stroke="#555" stroke-width="0.95"/>
<text class="s" x="235.58" y="75.80" font-size="5.5" fill="#222" textLength="8.53" lengthAdjust="spacingAndGlyphs">21.9</text>
<path d="M60.3 114.2 V102.4 M60.3 114.2 H81.6" stroke="#111" stroke-width="1.0" fill="none"/>
<path d="M58.9 103.6 L60.3 100.9 L61.7 103.6 Z M80.6 112.8 L83.2 114.2 L80.6 115.6 Z" fill="#111"/>
<text class="s" x="62.06" y="110.90" font-size="5.6" fill="#1a1a1a" textLength="10.06" lengthAdjust="spacingAndGlyphs">IFNγ</text>
<text class="s" x="65.97" y="119.80" font-size="5.4" fill="#1a1a1a" textLength="13.49" lengthAdjust="spacingAndGlyphs">Vα24</text>
<line x1="314.60" y1="8.40" x2="314.60" y2="98.50" stroke="#b3b3b3" stroke-width="1.3"/>
<line x1="314.60" y1="98.50" x2="462.00" y2="98.50" stroke="#b3b3b3" stroke-width="1.3"/>
<line x1="312.20" y1="98.50" x2="314.60" y2="98.50" stroke="#b3b3b3" stroke-width="1.0"/>
<text class="s" x="307.26" y="100.80" font-size="6.4" fill="#1a1a1a" textLength="3.27" lengthAdjust="spacingAndGlyphs">0</text>
<line x1="312.20" y1="75.97" x2="314.60" y2="75.97" stroke="#b3b3b3" stroke-width="1.0"/>
<text class="s" x="303.98" y="78.27" font-size="6.4" fill="#1a1a1a" textLength="6.55" lengthAdjust="spacingAndGlyphs">20</text>
<line x1="312.20" y1="53.45" x2="314.60" y2="53.45" stroke="#b3b3b3" stroke-width="1.0"/>
<text class="s" x="303.98" y="55.75" font-size="6.4" fill="#1a1a1a" textLength="6.55" lengthAdjust="spacingAndGlyphs">40</text>
<line x1="312.20" y1="30.92" x2="314.60" y2="30.92" stroke="#b3b3b3" stroke-width="1.0"/>
<text class="s" x="303.98" y="33.22" font-size="6.4" fill="#1a1a1a" textLength="6.55" lengthAdjust="spacingAndGlyphs">60</text>
<line x1="312.20" y1="8.40" x2="314.60" y2="8.40" stroke="#b3b3b3" stroke-width="1.0"/>
<text class="s" x="303.98" y="10.70" font-size="6.4" fill="#1a1a1a" textLength="6.55" lengthAdjust="spacingAndGlyphs">80</text>
<line x1="351.50" y1="98.50" x2="351.50" y2="99.70" stroke="#bbb" stroke-width="0.7"/>
<line x1="388.30" y1="98.50" x2="388.30" y2="99.70" stroke="#bbb" stroke-width="0.7"/>
<line x1="425.20" y1="98.50" x2="425.20" y2="99.70" stroke="#bbb" stroke-width="0.7"/>
<text x="259.29" y="20.90" font-size="7.1" fill="#1a1a1a" textLength="44.89" lengthAdjust="spacingAndGlyphs">% IFNγ-secreting</text>
<text x="259.71" y="29.10" font-size="7.1" fill="#1a1a1a" textLength="41.69" lengthAdjust="spacingAndGlyphs">NKT cells / total</text>
<text x="268.81" y="37.70" font-size="7.1" fill="#1a1a1a" textLength="25.81" lengthAdjust="spacingAndGlyphs">NKT cells</text>
<text class="s" x="326.77" y="106.30" font-size="6.5" fill="#1a1a1a" textLength="6.85" lengthAdjust="spacingAndGlyphs">(-)</text>
<text class="s" x="361.51" y="106.80" font-size="6.9" fill="#1a1a1a" textLength="9.87" lengthAdjust="spacingAndGlyphs">Len</text>
<text class="s" x="399.80" y="106.30" font-size="6.5" fill="#1a1a1a" textLength="6.51" lengthAdjust="spacingAndGlyphs">(-)</text>
<text class="s" x="435.48" y="106.80" font-size="6.9" fill="#1a1a1a" textLength="10.53" lengthAdjust="spacingAndGlyphs">Len</text>
<line x1="327.20" y1="109.60" x2="373.40" y2="109.60" stroke="#3c3c3c" stroke-width="1.2"/>
<line x1="400.20" y1="109.60" x2="446.90" y2="109.60" stroke="#3c3c3c" stroke-width="1.2"/>
<text class="s" x="341.18" y="119.80" font-size="6.8" fill="#1a1a1a" textLength="15.51" lengthAdjust="spacingAndGlyphs">DC(-)</text>
<text class="s" x="408.51" y="119.80" font-size="6.8" fill="#1a1a1a" textLength="25.27" lengthAdjust="spacingAndGlyphs">DC(αGC)</text>
<text class="s" x="412.32" y="4.70" font-size="6.3" fill="#1a1a1a" textLength="18.43" lengthAdjust="spacingAndGlyphs"><tspan font-style="italic">P</tspan> = .03</text>
<line x1="407.10" y1="8.80" x2="441.00" y2="8.80" stroke="#3c3c3c" stroke-width="1.3"/>
<circle cx="333.30" cy="93.90" r="1.45" fill="#000"/>
<circle cx="333.30" cy="95.50" r="1.45" fill="#000"/>
<circle cx="333.30" cy="97.60" r="1.45" fill="#000"/>
<line x1="330.30" y1="96.90" x2="336.20" y2="96.90" stroke="#000" stroke-width="1.1"/>
<circle cx="369.70" cy="87.60" r="1.45" fill="#000"/>
<circle cx="369.70" cy="89.50" r="1.45" fill="#000"/>
<circle cx="369.70" cy="92.70" r="1.45" fill="#000"/>
<circle cx="369.70" cy="96.40" r="1.45" fill="#000"/>
<circle cx="369.70" cy="98.10" r="1.45" fill="#000"/>
<line x1="367.10" y1="94.20" x2="372.50" y2="94.20" stroke="#000" stroke-width="1.1"/>
<circle cx="406.10" cy="45.00" r="1.65" fill="#000"/>
<circle cx="406.10" cy="64.00" r="1.65" fill="#000"/>
<circle cx="406.10" cy="75.80" r="1.65" fill="#000"/>
<circle cx="406.10" cy="80.40" r="1.65" fill="#000"/>
<circle cx="406.10" cy="92.40" r="1.65" fill="#000"/>
<circle cx="406.10" cy="96.00" r="1.65" fill="#000"/>
<line x1="403.40" y1="78.20" x2="409.20" y2="78.20" stroke="#000" stroke-width="1.0"/>
<circle cx="442.90" cy="13.40" r="1.65" fill="#000"/>
<circle cx="442.90" cy="38.20" r="1.65" fill="#000"/>
<circle cx="442.90" cy="47.40" r="1.65" fill="#000"/>
<circle cx="442.90" cy="71.80" r="1.65" fill="#000"/>
<circle cx="442.90" cy="82.10" r="1.65" fill="#000"/>
<line x1="440.00" y1="54.50" x2="446.20" y2="54.50" stroke="#000" stroke-width="1.3"/>
<line x1="37.40" y1="144.70" x2="165.70" y2="144.70" stroke="#b5b5b5" stroke-width="0.9"/>
<line x1="165.70" y1="144.70" x2="165.70" y2="230.40" stroke="#b5b5b5" stroke-width="0.9"/>
<line x1="35.40" y1="230.40" x2="37.40" y2="230.40" stroke="#888" stroke-width="0.8"/>
<text class="s" x="30.19" y="232.40" font-size="5.7" fill="#1a1a1a" textLength="2.92" lengthAdjust="spacingAndGlyphs">0</text>
<line x1="35.40" y1="218.16" x2="37.40" y2="218.16" stroke="#888" stroke-width="0.8"/>
<text class="s" x="27.27" y="220.16" font-size="5.7" fill="#1a1a1a" textLength="5.83" lengthAdjust="spacingAndGlyphs">10</text>
<line x1="35.40" y1="205.91" x2="37.40" y2="205.91" stroke="#888" stroke-width="0.8"/>
<text class="s" x="27.27" y="207.91" font-size="5.7" fill="#1a1a1a" textLength="5.83" lengthAdjust="spacingAndGlyphs">20</text>
<line x1="35.40" y1="193.67" x2="37.40" y2="193.67" stroke="#888" stroke-width="0.8"/>
<text class="s" x="27.27" y="195.67" font-size="5.7" fill="#1a1a1a" textLength="5.83" lengthAdjust="spacingAndGlyphs">30</text>
<line x1="35.40" y1="181.43" x2="37.40" y2="181.43" stroke="#888" stroke-width="0.8"/>
<text class="s" x="27.27" y="183.43" font-size="5.7" fill="#1a1a1a" textLength="5.83" lengthAdjust="spacingAndGlyphs">40</text>
<line x1="35.40" y1="169.19" x2="37.40" y2="169.19" stroke="#888" stroke-width="0.8"/>
<text class="s" x="27.27" y="171.19" font-size="5.7" fill="#1a1a1a" textLength="5.83" lengthAdjust="spacingAndGlyphs">50</text>
<line x1="35.40" y1="156.94" x2="37.40" y2="156.94" stroke="#888" stroke-width="0.8"/>
<text class="s" x="27.27" y="158.94" font-size="5.7" fill="#1a1a1a" textLength="5.83" lengthAdjust="spacingAndGlyphs">60</text>
<line x1="35.40" y1="144.70" x2="37.40" y2="144.70" stroke="#888" stroke-width="0.8"/>
<text class="s" x="27.27" y="146.70" font-size="5.7" fill="#1a1a1a" textLength="5.83" lengthAdjust="spacingAndGlyphs">70</text>
<text x="4.38" y="165.60" font-size="7.4" fill="#1a1a1a" textLength="12.33" lengthAdjust="spacingAndGlyphs">Fold</text>
<text x="0.19" y="174.50" font-size="7.6" fill="#1a1a1a" textLength="21.59" lengthAdjust="spacingAndGlyphs">Change</text>
<rect x="40.3" y="146.5" width="26.0" height="33.6" fill="none" stroke="#a0a0a0" stroke-width="0.8"/>
<rect x="46.20" y="150.50" width="2.90" height="2.90" fill="#8c8c8c" stroke="#555" stroke-width="0.5"/>
<rect x="46.20" y="161.80" width="2.90" height="2.90" fill="#fff" stroke="#555" stroke-width="0.5"/>
<rect x="46.20" y="173.20" width="3.20" height="3.00" fill="#000"/>
<text class="s" x="51.19" y="153.80" font-size="5.4" fill="#1a1a1a" textLength="5.70" lengthAdjust="spacingAndGlyphs">IL-4</text>
<text class="s" x="51.07" y="165.50" font-size="5.4" fill="#1a1a1a" textLength="10.72" lengthAdjust="spacingAndGlyphs">IL-10</text>
<text class="s" x="51.09" y="176.30" font-size="5.4" fill="#1a1a1a" textLength="10.99" lengthAdjust="spacingAndGlyphs">IFN-g</text>
<rect x="42.27" y="229.85" width="7.35" height="0.55" fill="#8a8a8a" stroke="#444" stroke-width="0.6"/>
<rect x="49.62" y="229.97" width="7.35" height="0.43" fill="#fff" stroke="#777" stroke-width="0.6"/>
<rect x="56.97" y="229.48" width="7.35" height="0.92" fill="#000" stroke="#000" stroke-width="0.6"/>
<rect x="74.18" y="229.97" width="7.35" height="0.43" fill="#8a8a8a" stroke="#444" stroke-width="0.6"/>
<rect x="81.53" y="228.14" width="7.35" height="2.26" fill="#fff" stroke="#777" stroke-width="0.6"/>
<rect x="88.88" y="229.73" width="7.35" height="0.67" fill="#000" stroke="#000" stroke-width="0.6"/>
<rect x="106.57" y="229.79" width="7.35" height="0.61" fill="#8a8a8a" stroke="#444" stroke-width="0.6"/>
<rect x="113.92" y="220.24" width="7.35" height="10.16" fill="#fff" stroke="#777" stroke-width="0.6"/>
<rect x="121.27" y="191.35" width="7.35" height="39.05" fill="#000" stroke="#000" stroke-width="0.6"/>
<rect x="138.57" y="229.79" width="7.35" height="0.61" fill="#8a8a8a" stroke="#444" stroke-width="0.6"/>
<rect x="145.92" y="220.12" width="7.35" height="10.28" fill="#fff" stroke="#777" stroke-width="0.6"/>
<rect x="153.27" y="152.29" width="7.35" height="78.11" fill="#000" stroke="#000" stroke-width="0.6"/>
<line x1="37.40" y1="144.70" x2="37.40" y2="230.40" stroke="#8a8a8a" stroke-width="1.0"/>
<line x1="37.40" y1="230.40" x2="165.70" y2="230.40" stroke="#8a8a8a" stroke-width="1.0"/>
<line x1="69.50" y1="230.40" x2="69.50" y2="231.60" stroke="#aaa" stroke-width="0.6"/>
<line x1="101.50" y1="230.40" x2="101.50" y2="231.60" stroke="#aaa" stroke-width="0.6"/>
<line x1="133.70" y1="230.40" x2="133.70" y2="231.60" stroke="#aaa" stroke-width="0.6"/>
<text class="s" x="49.62" y="239.70" font-size="6.0" fill="#1a1a1a" textLength="6.05" lengthAdjust="spacingAndGlyphs">(-)</text>
<text class="s" x="78.63" y="239.60" font-size="5.7" fill="#1a1a1a" textLength="9.65" lengthAdjust="spacingAndGlyphs">Len</text>
<text class="s" x="116.20" y="239.70" font-size="6.0" fill="#1a1a1a" textLength="6.39" lengthAdjust="spacingAndGlyphs">(-)</text>
<text class="s" x="145.20" y="239.60" font-size="5.7" fill="#1a1a1a" textLength="10.09" lengthAdjust="spacingAndGlyphs">Len</text>
<line x1="49.50" y1="243.10" x2="86.90" y2="243.10" stroke="#3c3c3c" stroke-width="1.0"/>
<line x1="118.00" y1="243.10" x2="155.90" y2="243.10" stroke="#3c3c3c" stroke-width="1.0"/>
<text class="s" x="60.12" y="250.90" font-size="6.0" fill="#1a1a1a" textLength="14.24" lengthAdjust="spacingAndGlyphs">DC(-)</text>
<text class="s" x="123.01" y="250.90" font-size="6.0" fill="#1a1a1a" textLength="24.85" lengthAdjust="spacingAndGlyphs">DC(αGC)</text>
<line x1="224.30" y1="157.60" x2="224.30" y2="230.40" stroke="#a0a0a0" stroke-width="1.0"/>
<line x1="224.30" y1="230.40" x2="342.70" y2="230.40" stroke="#a0a0a0" stroke-width="1.0"/>
<line x1="222.50" y1="230.40" x2="224.30" y2="230.40" stroke="#a0a0a0" stroke-width="0.8"/>
<text class="s" x="218.27" y="232.70" font-size="5.1" fill="#1a1a1a" textLength="2.61" lengthAdjust="spacingAndGlyphs">0</text>
<line x1="222.50" y1="218.27" x2="224.30" y2="218.27" stroke="#a0a0a0" stroke-width="0.8"/>
<text class="s" x="215.66" y="220.57" font-size="5.1" fill="#1a1a1a" textLength="5.22" lengthAdjust="spacingAndGlyphs">10</text>
<line x1="222.50" y1="206.13" x2="224.30" y2="206.13" stroke="#a0a0a0" stroke-width="0.8"/>
<text class="s" x="215.66" y="208.43" font-size="5.1" fill="#1a1a1a" textLength="5.22" lengthAdjust="spacingAndGlyphs">20</text>
<line x1="222.50" y1="194.00" x2="224.30" y2="194.00" stroke="#a0a0a0" stroke-width="0.8"/>
<text class="s" x="215.66" y="196.30" font-size="5.1" fill="#1a1a1a" textLength="5.22" lengthAdjust="spacingAndGlyphs">30</text>
<line x1="222.50" y1="181.87" x2="224.30" y2="181.87" stroke="#a0a0a0" stroke-width="0.8"/>
<text class="s" x="215.66" y="184.17" font-size="5.1" fill="#1a1a1a" textLength="5.22" lengthAdjust="spacingAndGlyphs">40</text>
<line x1="222.50" y1="169.73" x2="224.30" y2="169.73" stroke="#a0a0a0" stroke-width="0.8"/>
<text class="s" x="215.66" y="172.03" font-size="5.1" fill="#1a1a1a" textLength="5.22" lengthAdjust="spacingAndGlyphs">50</text>
<line x1="222.50" y1="157.60" x2="224.30" y2="157.60" stroke="#a0a0a0" stroke-width="0.8"/>
<text class="s" x="215.66" y="159.90" font-size="5.1" fill="#1a1a1a" textLength="5.22" lengthAdjust="spacingAndGlyphs">60</text>
<line x1="253.90" y1="230.40" x2="253.90" y2="231.60" stroke="#bbb" stroke-width="0.6"/>
<line x1="283.50" y1="230.40" x2="283.50" y2="231.60" stroke="#bbb" stroke-width="0.6"/>
<line x1="313.10" y1="230.40" x2="313.10" y2="231.60" stroke="#bbb" stroke-width="0.6"/>
<text class="s" x="176.83" y="167.10" font-size="5.8" fill="#1a1a1a" textLength="36.78" lengthAdjust="spacingAndGlyphs">% IFNγ-secreting</text>
<text class="s" x="178.00" y="177.20" font-size="5.8" fill="#1a1a1a" textLength="34.23" lengthAdjust="spacingAndGlyphs">NKT cells / total</text>
<text class="s" x="184.71" y="187.50" font-size="5.8" fill="#1a1a1a" textLength="20.26" lengthAdjust="spacingAndGlyphs">NKT cells</text>
<text class="s" x="235.78" y="237.60" font-size="5.2" fill="#1a1a1a" textLength="9.07" lengthAdjust="spacingAndGlyphs">Dex</text>
<text class="s" x="257.80" y="237.60" font-size="5.2" fill="#1a1a1a" textLength="22.32" lengthAdjust="spacingAndGlyphs">Dex + Len</text>
<text class="s" x="295.51" y="237.70" font-size="5.2" fill="#1a1a1a" textLength="8.55" lengthAdjust="spacingAndGlyphs">Dex</text>
<text class="s" x="317.00" y="237.70" font-size="5.2" fill="#1a1a1a" textLength="21.22" lengthAdjust="spacingAndGlyphs">Dex+ Len</text>
<line x1="238.50" y1="240.80" x2="278.20" y2="240.80" stroke="#3c3c3c" stroke-width="1.1"/>
<line x1="297.00" y1="240.80" x2="336.80" y2="240.80" stroke="#3c3c3c" stroke-width="1.1"/>
<text class="s" x="252.09" y="247.10" font-size="5.2" fill="#1a1a1a" textLength="12.22" lengthAdjust="spacingAndGlyphs">DC(-)</text>
<text class="s" x="306.00" y="247.80" font-size="5.3" fill="#1a1a1a" textLength="20.40" lengthAdjust="spacingAndGlyphs">DC(αGC)</text>
<text class="s" x="305.54" y="162.40" font-size="6.0" fill="#1a1a1a" textLength="16.42" lengthAdjust="spacingAndGlyphs"><tspan font-style="italic">P</tspan> = .02</text>
<line x1="300.80" y1="165.30" x2="326.60" y2="165.30" stroke="#3c3c3c" stroke-width="1.1"/>
<circle cx="239.40" cy="227.60" r="1.05" fill="#000"/>
<circle cx="239.40" cy="229.60" r="1.05" fill="#000"/>
<line x1="237.30" y1="229.40" x2="241.50" y2="229.40" stroke="#000" stroke-width="0.9"/>
<circle cx="268.80" cy="220.20" r="1.25" fill="#000"/>
<circle cx="268.80" cy="228.20" r="1.25" fill="#000"/>
<circle cx="268.80" cy="229.60" r="1.25" fill="#000"/>
<line x1="267.10" y1="226.60" x2="271.20" y2="226.60" stroke="#000" stroke-width="0.9"/>
<circle cx="298.30" cy="185.10" r="1.25" fill="#000"/>
<circle cx="298.30" cy="214.50" r="1.25" fill="#000"/>
<circle cx="298.30" cy="220.90" r="1.25" fill="#000"/>
<circle cx="298.30" cy="222.90" r="1.25" fill="#000"/>
<line x1="295.90" y1="210.80" x2="301.00" y2="210.80" stroke="#3a3a3a" stroke-width="1.0"/>
<circle cx="328.60" cy="170.40" r="1.25" fill="#000"/>
<circle cx="328.60" cy="199.60" r="1.25" fill="#000"/>
<circle cx="328.60" cy="206.70" r="1.25" fill="#000"/>
<circle cx="328.60" cy="214.90" r="1.25" fill="#000"/>
<line x1="325.00" y1="198.00" x2="331.00" y2="198.00" stroke="#000" stroke-width="1.1"/>
<line x1="409.00" y1="151.10" x2="409.00" y2="230.80" stroke="#a0a0a0" stroke-width="1.0"/>
<line x1="409.00" y1="230.80" x2="519.00" y2="230.80" stroke="#a0a0a0" stroke-width="1.0"/>
<line x1="407.20" y1="230.80" x2="409.00" y2="230.80" stroke="#a0a0a0" stroke-width="0.8"/>
<text class="s" x="402.27" y="232.60" font-size="5.1" fill="#1a1a1a" textLength="2.61" lengthAdjust="spacingAndGlyphs">0</text>
<line x1="407.20" y1="210.88" x2="409.00" y2="210.88" stroke="#a0a0a0" stroke-width="0.8"/>
<text class="s" x="399.66" y="212.68" font-size="5.1" fill="#1a1a1a" textLength="5.22" lengthAdjust="spacingAndGlyphs">10</text>
<line x1="407.20" y1="190.95" x2="409.00" y2="190.95" stroke="#a0a0a0" stroke-width="0.8"/>
<text class="s" x="399.66" y="192.75" font-size="5.1" fill="#1a1a1a" textLength="5.22" lengthAdjust="spacingAndGlyphs">20</text>
<line x1="407.20" y1="171.03" x2="409.00" y2="171.03" stroke="#a0a0a0" stroke-width="0.8"/>
<text class="s" x="399.66" y="172.83" font-size="5.1" fill="#1a1a1a" textLength="5.22" lengthAdjust="spacingAndGlyphs">30</text>
<line x1="407.20" y1="151.10" x2="409.00" y2="151.10" stroke="#a0a0a0" stroke-width="0.8"/>
<text class="s" x="399.66" y="152.90" font-size="5.1" fill="#1a1a1a" textLength="5.22" lengthAdjust="spacingAndGlyphs">40</text>
<line x1="436.50" y1="230.80" x2="436.50" y2="232.00" stroke="#bbb" stroke-width="0.6"/>
<line x1="464.00" y1="230.80" x2="464.00" y2="232.00" stroke="#bbb" stroke-width="0.6"/>
<line x1="491.70" y1="230.80" x2="491.70" y2="232.00" stroke="#bbb" stroke-width="0.6"/>
<text class="s" x="354.41" y="165.30" font-size="6.4" fill="#1a1a1a" textLength="40.93" lengthAdjust="spacingAndGlyphs">% IFNγ-secreting</text>
<text class="s" x="355.85" y="176.60" font-size="6.4" fill="#1a1a1a" textLength="38.11" lengthAdjust="spacingAndGlyphs">NKT cells / total</text>
<text class="s" x="363.26" y="187.60" font-size="6.4" fill="#1a1a1a" textLength="23.14" lengthAdjust="spacingAndGlyphs">NKT cells</text>
<text class="s" x="420.95" y="239.30" font-size="5.7" fill="#1a1a1a" textLength="5.71" lengthAdjust="spacingAndGlyphs">(-)</text>
<text class="s" x="443.91" y="239.70" font-size="5.8" fill="#1a1a1a" textLength="9.98" lengthAdjust="spacingAndGlyphs">Len</text>
<text class="s" x="476.47" y="239.50" font-size="6.0" fill="#1a1a1a" textLength="6.96" lengthAdjust="spacingAndGlyphs">(-)</text>
<text class="s" x="498.84" y="239.70" font-size="5.8" fill="#1a1a1a" textLength="9.43" lengthAdjust="spacingAndGlyphs">Len</text>
<line x1="419.30" y1="243.60" x2="455.10" y2="243.60" stroke="#3c3c3c" stroke-width="1.1"/>
<line x1="474.80" y1="243.60" x2="511.10" y2="243.60" stroke="#3c3c3c" stroke-width="1.1"/>
<text class="s" x="433.92" y="250.70" font-size="6.6" fill="#1a1a1a" textLength="6.05" lengthAdjust="spacingAndGlyphs">(-)</text>
<text class="s" x="486.23" y="250.60" font-size="5.6" fill="#1a1a1a" textLength="13.31" lengthAdjust="spacingAndGlyphs">αGC</text>
<text class="s" x="483.63" y="150.80" font-size="6.5" fill="#1a1a1a" textLength="17.51" lengthAdjust="spacingAndGlyphs"><tspan font-style="italic">P</tspan> = .03</text>
<line x1="478.30" y1="153.60" x2="506.40" y2="153.60" stroke="#3c3c3c" stroke-width="1.2"/>
<path d="M420.0 230.6 L423.1 228.9 L426.2 230.6 L423.1 232.1 Z" fill="#000"/>
<path d="M447.7 230.6 L450.8 228.9 L453.9 230.6 L450.8 232.1 Z" fill="#000"/>
<circle cx="478.40" cy="189.00" r="1.35" fill="#000"/>
<circle cx="478.40" cy="192.30" r="1.35" fill="#000"/>
<circle cx="478.40" cy="197.20" r="1.35" fill="#000"/>
<circle cx="478.40" cy="199.60" r="1.35" fill="#000"/>
<circle cx="478.40" cy="213.90" r="1.35" fill="#000"/>
<line x1="475.60" y1="198.40" x2="481.30" y2="198.40" stroke="#000" stroke-width="1.0"/>
<circle cx="505.80" cy="161.50" r="1.35" fill="#000"/>
<circle cx="505.80" cy="169.20" r="1.35" fill="#000"/>
<circle cx="505.80" cy="185.80" r="1.35" fill="#000"/>
<circle cx="505.80" cy="194.50" r="1.35" fill="#000"/>
<circle cx="505.80" cy="206.30" r="1.35" fill="#000"/>
<line x1="503.80" y1="183.70" x2="508.00" y2="183.70" stroke="#000" stroke-width="0.9"/>
</g>
</svg>
</body></html>
